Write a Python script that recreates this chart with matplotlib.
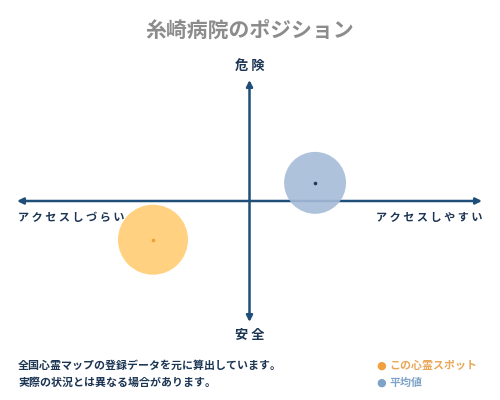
import matplotlib
matplotlib.use("Agg")
import matplotlib.pyplot as plt

plt.rcParams['font.family'] = ['Noto Sans CJK JP', 'DejaVu Sans']

# chart data (position on a -100..100 grid)
names = ["この心霊スポット", "平均値"]
xs = [-41.5, 28.2]
ys = [-32.0, 15.0]
sizes = [2540, 1990]
fills = ["#FFCC73", "#A6BCD8"]
dots = ["#F0A030", "#1F3A5A"]
legend_cols = ["#F0A040", "#7FA3C8"]
legend_text_cols = ["#E8A858", "#7FA3C8"]

title = "糸崎病院のポジション"
top_label, bottom_label = "危 険", "安 全"
left_label, right_label = "ア ク セ ス し づ ら い", "ア ク セ ス し や す い"
notes = ["全国心霊マップの登録データを元に算出しています。",
         "実際の状況とは異なる場合があります。"]

navy = "#1F4E79"
text_navy = "#1C3553"

fig = plt.figure(figsize=(5, 4), dpi=100)
ax = fig.add_axes([17 / 500, 1 - 322 / 400, 465 / 500, 242 / 400])
ax.set_xlim(-100, 100)
ax.set_ylim(-100, 100)
ax.axis("off")

# axis arrows
for end in [(100, 0), (-100, 0), (0, 100), (0, -100)]:
    ax.annotate("", xy=end, xytext=(0, 0),
                arrowprops=dict(arrowstyle="-|>", color=navy, lw=1.8,
                                mutation_scale=9, shrinkA=0, shrinkB=0))

# bubbles
for x, y, s, c, d in zip(xs, ys, sizes, fills, dots):
    ax.scatter([x], [y], s=s, color=c, alpha=0.9, edgecolors="none", zorder=3)
    ax.scatter([x], [y], s=2.5, color=d, zorder=4)

def px(x, y):
    return x / 500, 1 - y / 400

fig.text(*px(250, 30), title, ha="center", va="center", fontsize=15,
         color="#8C8C8C", fontweight="bold")
fig.text(*px(250, 66), top_label, ha="center", va="center", fontsize=9.5,
         color=text_navy, fontweight="bold")
fig.text(*px(250, 335), bottom_label, ha="center", va="center", fontsize=9.5,
         color=text_navy, fontweight="bold")
fig.text(*px(18, 217), left_label, ha="left", va="center", fontsize=8,
         color=text_navy, fontweight="bold")
fig.text(*px(482, 217), right_label, ha="right", va="center", fontsize=8,
         color=text_navy, fontweight="bold")

for i, line in enumerate(notes):
    fig.text(*px(18, 366 + 17 * i), line, ha="left", va="center",
             fontsize=7.9, color=text_navy, fontweight="bold")

for i, (name, c, tc) in enumerate(zip(names, legend_cols, legend_text_cols)):
    fig.text(*px(381, 366 + 17 * i), "●", ha="center", va="center",
             fontsize=8, color=c, family="DejaVu Sans")
    fig.text(*px(389, 366 + 17 * i), name, ha="left", va="center",
             fontsize=7.9, color=tc, fontweight="bold")

fig.savefig("out.png", dpi=100)
